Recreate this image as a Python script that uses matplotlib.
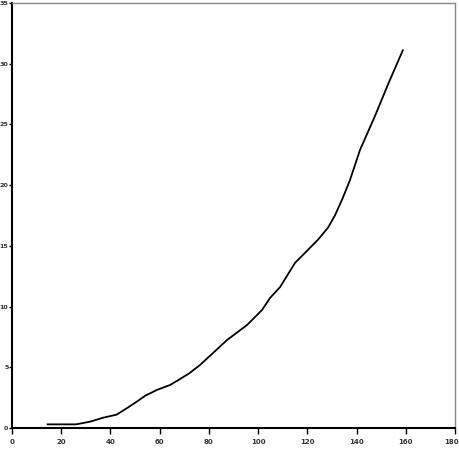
import matplotlib
matplotlib.use('Agg')
import matplotlib.pyplot as plt
import matplotlib.transforms as mtransforms

# curve
x_vals = [14.5, 20, 26, 31.7, 37.1, 42.5, 46.6, 50.7, 54, 58.8, 64.2, 67.6, 72, 76.4,
          81.7, 87.4, 95.5, 101.6, 104.8, 108.9, 115, 118.2, 124.3, 128.4, 131.2,
          134.1, 137.3, 141.4, 147.5, 153, 158.8]
y_vals = [0.3, 0.3, 0.3, 0.52, 0.85, 1.1, 1.62, 2.17, 2.64, 3.13, 3.54, 3.95, 4.5, 5.19,
          6.18, 7.25, 8.48, 9.72, 10.7, 11.6, 13.6, 14.25, 15.5, 16.5, 17.5,
          18.8, 20.4, 22.9, 25.7, 28.4, 31.1]

x_ticks = [0, 20, 40, 60, 80, 100, 120, 140, 160, 180]
y_ticks = [0, 5, 10, 15, 20, 25, 30, 35]


def main():
	fig = plt.figure(figsize=(4.6, 4.5), dpi=100)
	ax = fig.add_axes([12 / 460, 1 - 428 / 450, 443 / 460, 425 / 450])

	ax.plot(x_vals, y_vals, color='black', linewidth=1.3)

	ax.set_xlim(0, 180)
	ax.set_ylim(0, 35)
	ax.set_xticks(x_ticks)
	ax.set_yticks(y_ticks)

	for side in ['top', 'right']:
		ax.spines[side].set_color('#888888')
		ax.spines[side].set_linewidth(1)
	for side in ['left', 'bottom']:
		ax.spines[side].set_color('black')
		ax.spines[side].set_linewidth(1.5)

	ax.tick_params(axis='x', direction='out', length=4, width=1, pad=4, labelsize=5,
				   labelcolor='#333333')
	ax.tick_params(axis='y', direction='out', length=2.5, width=1, pad=0, labelsize=4.6,
				   labelcolor='#333333')
	for lbl in ax.get_xticklabels() + ax.get_yticklabels():
		lbl.set_family(['Liberation Sans Narrow', 'DejaVu Sans'])
		lbl.set_weight('bold')

	# keep the last x label inside the picture
	last = ax.get_xticklabels()[-1]
	last.set_transform(last.get_transform() +
					   mtransforms.ScaledTranslation(-3 / 100, 0, fig.dpi_scale_trans))

	fig.savefig('out.png', dpi=100)


if __name__ == '__main__':
	main()
